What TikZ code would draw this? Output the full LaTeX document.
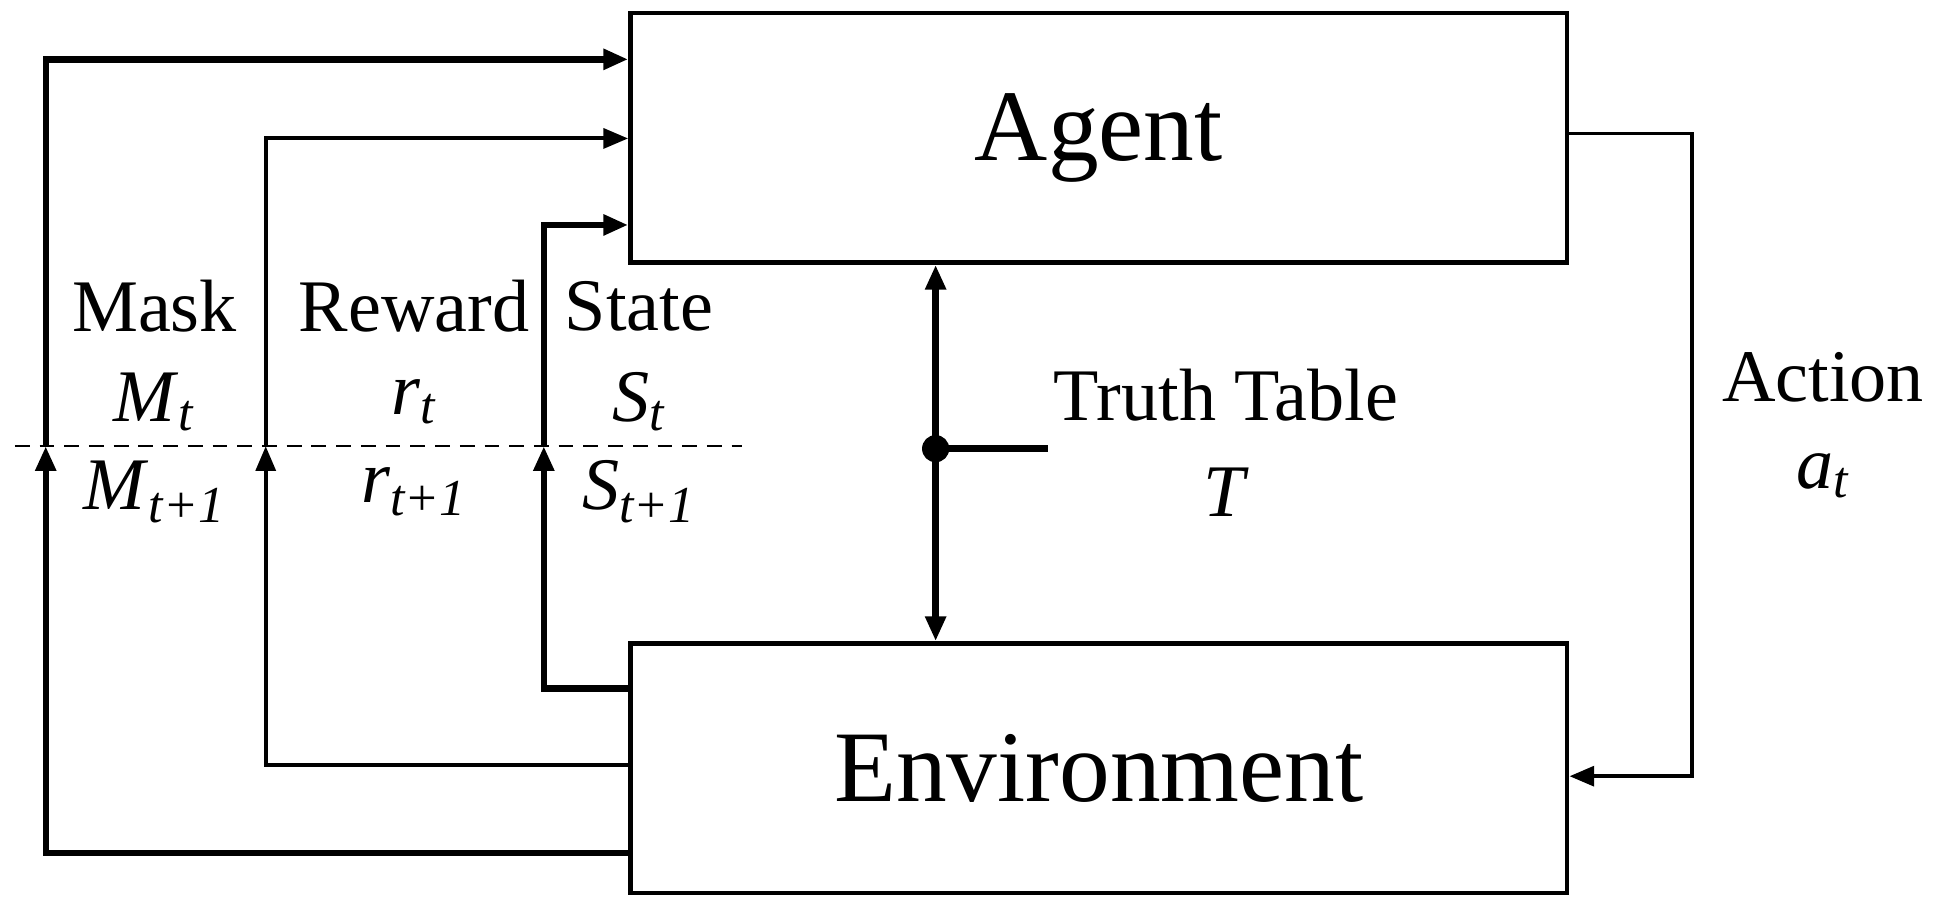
\documentclass[tikz,border=0pt]{standalone}
\usepackage{fontspec}
\setmainfont{Liberation Serif}
\usetikzlibrary{arrows.meta}
\begin{document}
\begin{tikzpicture}[x=0.5pt,y=-0.5pt,
  box/.style={draw,line width=1.8pt,minimum width=379pt,minimum height=101pt,inner sep=0pt,font=\fontsize{41}{43}\selectfont},
  thick line/.style={line width=2.6pt},
  thin line/.style={line width=1.6pt},
  arr/.style={-{Triangle[length=10pt,width=8pt]}},
  lab/.style={font=\fontsize{30}{32}\selectfont,inner sep=0pt}]
\useasboundingbox (0,0) rectangle (1568,736);
\node[box] (agent) at (889,111.5) {Agent};
\node[box] (env) at (889,621.5) {Environment};
% mask
\coordinate (m1) at (37,690); \coordinate (m2) at (37,361); \coordinate (m3) at (37,48);
\draw[thick line,arr] (env.west |- m1) -- (m1) -- (m2);
\draw[thick line,arr] (m2) -- (m3) -- (agent.west |- m3);
% reward
\coordinate (r1) at (215,619); \coordinate (r2) at (215,361); \coordinate (r3) at (215,112);
\draw[thin line,arr] (env.west |- r1) -- (r1) -- (r2);
\draw[thin line,arr] (r2) -- (r3) -- (agent.west |- r3);
% state
\coordinate (s1) at (440,557); \coordinate (s2) at (440,361); \coordinate (s3) at (440,182);
\draw[thick line,arr] (env.west |- s1) -- (s1) -- (s2);
\draw[thick line,arr] (s2) -- (s3) -- (agent.west |- s3);
% dashed
\coordinate (d1) at (12,361); \coordinate (d2) at (600,361);
\draw[line width=0.9pt,dash pattern=on 6pt off 4pt] (d1) -- (d2);
% truth table
\coordinate (dot) at (757,363); \coordinate (tt) at (848,363);
\draw[thick line,{Triangle[length=10pt,width=8pt]}-{Triangle[length=10pt,width=8pt]}] (agent.south -| dot) -- (env.north -| dot);
\fill (dot) circle (11);
\draw[thick line] (dot) -- (tt);
\node[lab] (ttl) at (992,320) {Truth Table};
\node[lab] (ttT) at (992,398) {\textit{T}};
% action
\coordinate (a1) at (1369,108); \coordinate (a2) at (1369,628);
\draw[thin line,arr] (agent.east |- a1) -- (a1) -- (a2) -- (env.east |- a2);
\node[lab] (act) at (1475,305) {Action};
\node[lab] (actA) at (1475,385) {\textit{a}\textsubscript{\textit{t}}};
% labels
\node[lab] (mask) at (125,248) {Mask};
\node[lab] (mt) at (125,325) {\textit{M}\textsubscript{\textit{t}}};
\node[lab] (mt1) at (125,398) {\textit{M}\textsubscript{\textit{t+1}}};
\node[lab] (rew) at (335,248) {Reward};
\node[lab] (rt) at (335,325) {\textit{r}\textsubscript{\textit{t}}};
\node[lab] (rt1) at (335,398) {\textit{r}\textsubscript{\textit{t+1}}};
\node[lab] (st) at (517,248) {State};
\node[lab] (stt) at (517,325) {\textit{S}\textsubscript{\textit{t}}};
\node[lab] (st1) at (517,398) {\textit{S}\textsubscript{\textit{t+1}}};
\end{tikzpicture}
\end{document}
